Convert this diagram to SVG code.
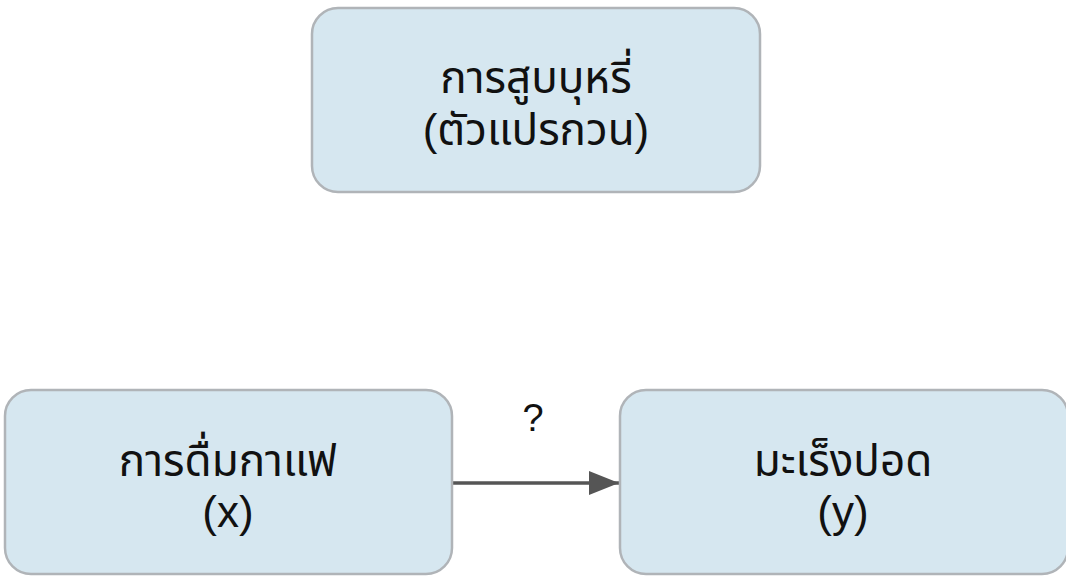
<svg xmlns="http://www.w3.org/2000/svg" width="1066" height="580" viewBox="0 0 1066 580">
<style>
.box{fill:#d6e7f0;stroke:#b0b4b8;stroke-width:2.5}
text{font-family:"Liberation Sans","Noto Sans","Noto Sans Thai",sans-serif;font-size:44px;fill:#111;text-anchor:middle}
</style>
<defs><marker id="a" viewBox="0 0 30 24" markerWidth="30" markerHeight="24" refX="30" refY="12" orient="auto" markerUnits="userSpaceOnUse"><path d="M0,0 L30,12 L0,24 Z" fill="#555"/></marker></defs>
<rect width="1066" height="580" fill="#fff"/>
<g id="edges"><line x1="452" y1="483" x2="619" y2="483" stroke="#555" stroke-width="3.5" marker-end="url(#a)"/>
<text x="533" y="431" style="font-size:38px">?</text></g>
<g id="confounder"><rect class="box" x="312" y="8" width="448" height="184" rx="26"/>
<text x="536" y="93">การสูบบุหรี่</text><text x="536" y="145">(ตัวแปรกวน)</text></g>
<g id="x"><rect class="box" x="5" y="390" width="447" height="184" rx="26"/>
<text x="228" y="476">การดื่มกาแฟ</text><text x="228" y="527">(x)</text></g>
<g id="y"><rect class="box" x="620" y="390" width="448" height="184" rx="26"/>
<text x="843" y="476">มะเร็งปอด</text><text x="843" y="527">(y)</text></g>
</svg>
